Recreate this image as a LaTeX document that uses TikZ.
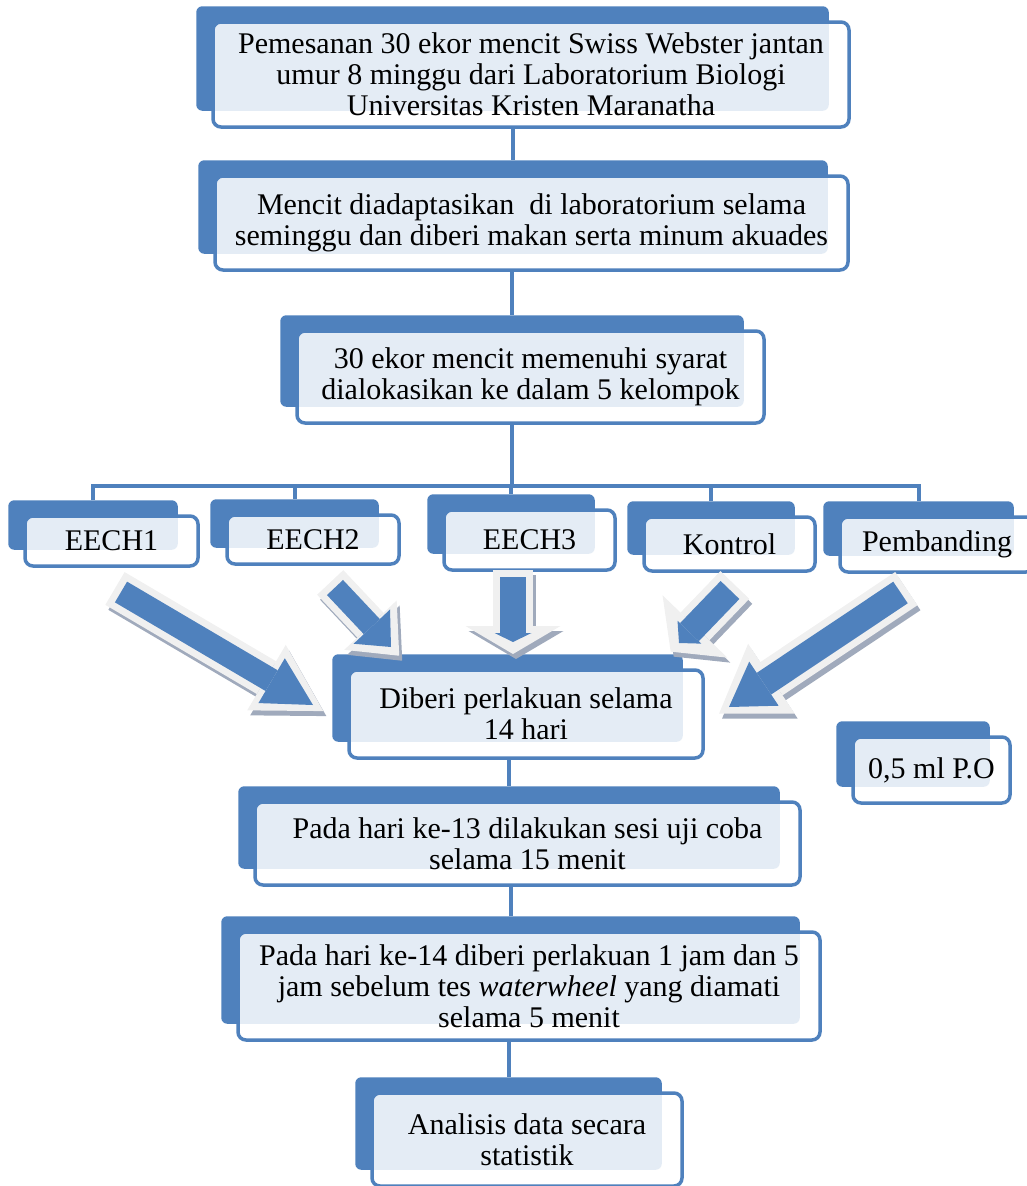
\documentclass[tikz,border=0pt]{standalone}
\usepackage{fontspec}
\setmainfont{Liberation Serif}
\usetikzlibrary{arrows.meta,backgrounds,calc}

\definecolor{biru}{HTML}{4F81BD}
\definecolor{abu}{HTML}{F0F0F0}
\definecolor{bayangan}{RGB}{160,170,188}

\tikzset{
  depan/.style={draw=biru, line width=3.5pt, rounded corners=8pt, fill=white,
    fill opacity=0.85, text opacity=1, align=center, inner sep=0pt,
    font=\fontsize{30}{31}\selectfont},
  belakang/.style={fill=biru, rounded corners=6pt},
  garis/.style={draw=biru, line width=4pt},
  tepi/.style={draw=abu},
  bayang/.style={draw=bayangan, transform canvas={shift={(3,5)}}},
  isi/.style={draw=biru},
}

\begin{document}
\begin{tikzpicture}[x=1pt, y=-1pt]

  \useasboundingbox (0,0) rectangle (1026,1186);

  %% block arrow: start, end, shaft, head length, head width, outer length, outer width
  \newcommand\panah[7]{
    \draw[bayang, line width=#3pt+14pt, shorten <=-7pt, shorten >=-12pt,
      -{Triangle[length=#6pt, width=#7pt, line width=0pt]}] (#1) -- (#2);
    \draw[tepi, line width=#3pt+14pt, shorten <=-7pt, shorten >=-12pt,
      -{Triangle[length=#6pt, width=#7pt, line width=0pt]}] (#1) -- (#2);
    \draw[isi, line width=#3pt,
      -{Triangle[length=#4pt, width=#5pt, line width=0pt]}] (#1) -- (#2);
  }

  \node[depan, minimum width=636pt, minimum height=105pt] (pesan) at (531,74.5)
    {Pemesanan 30 ekor mencit Swiss Webster jantan\\umur 8 minggu dari Laboratorium Biologi\\Universitas Kristen Maranatha};
  \node[depan, minimum width=633pt, minimum height=94pt] (adaptasi) at (531.5,223)
    {Mencit diadaptasikan~ di laboratorium selama\\seminggu dan diberi makan serta minum akuades};
  \node[depan, minimum width=467pt, minimum height=92pt] (alokasi) at (530.5,377)
    {30 ekor mencit memenuhi syarat\\dialokasikan ke dalam 5 kelompok};

  \node[depan, minimum width=173pt, minimum height=50pt] (eech1) at (111.5,541) {EECH1};
  \node[depan, minimum width=172pt, minimum height=49pt] (eech2) at (313,539.5) {EECH2};
  \node[depan, minimum width=171pt, minimum height=60pt] (eech3) at (529.5,540) {EECH3};
  \node[depan, minimum width=171pt, minimum height=54pt] (kontrol) at (729.5,544) {Kontrol};
  \node[depan, minimum width=194pt, minimum height=55pt] (banding) at (937,544.5) {Pembanding};

  \node[depan, minimum width=354pt, minimum height=88pt] (diberi) at (526,714)
    {Diberi perlakuan selama\\14 hari};
  \node[depan, minimum width=157pt, minimum height=66pt] (dosis) at (931.5,770) {0,5 ml P.O};
  \node[depan, minimum width=545pt, minimum height=83pt] (uji) at (527.5,843.5)
    {Pada hari ke-13 dilakukan sesi uji coba\\selama 15 menit};
  \node[depan, minimum width=582pt, minimum height=108pt] (tes) at (529,986)
    {Pada hari ke-14 diberi perlakuan 1 jam dan 5\\jam sebelum tes \textit{waterwheel} yang diamati\\selama 5 menit};
  \node[depan, minimum width=310pt, minimum height=93pt] (analisis) at (527,1139.5)
    {Analisis data secara\\statistik};

  \begin{scope}[on background layer]
    \foreach \n in {pesan,adaptasi,alokasi,eech1,eech2,eech3,kontrol,banding,diberi,dosis,uji,tes,analisis}
      \coordinate (\n-t) at ($(\n.north)+(-18.5,-14)$);

    \draw[garis] (pesan.south -| adaptasi-t) -- (adaptasi-t);
    \draw[garis] (adaptasi.south -| alokasi-t) -- (alokasi-t);
    \draw[garis] (alokasi.south -| alokasi-t) -- ++(0,61) coordinate (cabang);
    \foreach \n in {eech1,eech2,eech3,kontrol,banding}
      \draw[garis] (\n-t) |- (cabang);
    \draw[garis] (diberi.south -| uji-t) -- (uji-t);
    \draw[garis] (uji.south -| tes-t) -- (tes-t);
    \draw[garis] (tes.south -| analisis-t) -- (analisis-t);

    \foreach \n in {pesan,adaptasi,alokasi,eech1,eech2,eech3,kontrol,banding,diberi,dosis,uji,tes,analisis}
      \fill[belakang] ($(\n.north west)+(-15,-14)$) rectangle ($(\n.south east)+(-22,-18)$);
  \end{scope}

  %% arrows into the treatment box
  \coordinate (a1) at (121,592);   \coordinate (b1) at (313,705);
  \coordinate (a2) at (335,587.5); \coordinate (b2) at (391,647);
  \coordinate (a3) at (513,577);   \coordinate (b3) at (513,642);
  \coordinate (a4) at (730,590);   \coordinate (b4) at (679,643);
  \coordinate (a5) at (900.5,592.5); \coordinate (b5) at (729,707);

  \panah{a1}{b1}{24}{48}{52}{66}{76}
  \panah{a2}{b2}{22}{28}{50}{42}{72}
  \panah{a3}{b3}{26}{9}{37}{28}{95}
  \panah{a4}{b4}{26}{15}{33}{35}{90}
  \panah{a5}{b5}{26}{42}{53}{63}{84}

\end{tikzpicture}
\end{document}
